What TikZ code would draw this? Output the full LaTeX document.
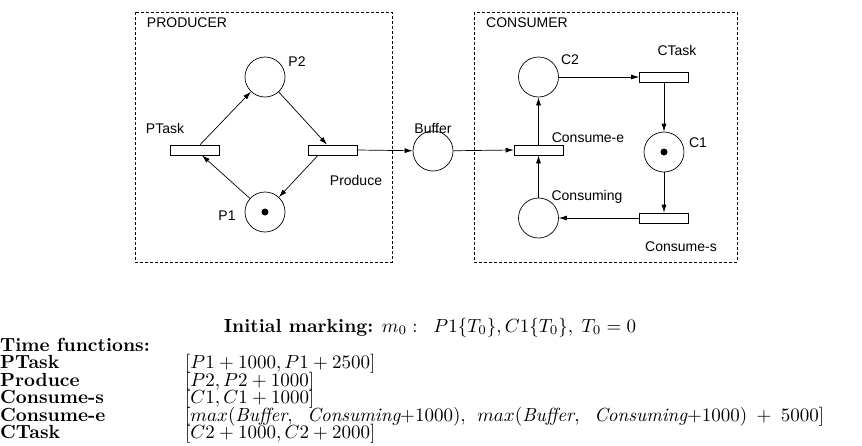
\documentclass[tikz,border=0pt]{standalone}
\usepackage{fontspec}
\newfontfamily\labelfont{Liberation Sans}
\usetikzlibrary{arrows.meta,calc}

% body text is set at 10pt and enlarged as a whole
\newcommand\enlargedtext[1]{\scalebox{1.9}{#1}}

\tikzset{
  place/.style={circle, draw, line width=0.7pt, minimum size=40pt, inner sep=0pt},
  trans/.style={rectangle, draw, line width=0.7pt, minimum width=49pt, minimum height=10pt, inner sep=0pt},
  arc/.style={line width=0.7pt, -{Latex[length=8pt,width=5pt]}},
  group/.style={draw, dash pattern=on 3pt off 2pt, line width=0.6pt},
  lbl/.style={font=\labelfont\fontsize{14}{16}\selectfont, inner sep=0pt},
  token/.style={circle, fill, minimum size=7pt, inner sep=0pt},
  txt/.style={font=\fontsize{10}{12}\selectfont, inner sep=0pt, anchor=base west},
}

\begin{document}
\begin{tikzpicture}[x=1pt,y=-1pt]
\useasboundingbox (0,0) rectangle (862,445);

% subnet frames
\draw[group] (135,12) rectangle (392,262);
\draw[group] (474,12) rectangle (737,262);
\node[lbl] (prodlbl) at (187,23) {PRODUCER};
\node[lbl] (conslbl) at (527,23) {CONSUMER};

% producer net
\node[place] (p2) at (265,77) {};
\node[place] (p1) at (265,212) {};
\node[token] (p1tok) at (p1) {};
\node[trans] (ptask) at (195,150) {};
\node[trans] (produce) at (333,150) {};

% buffer place
\node[place] (buffer) at (433,151) {};

% consumer net
\node[place] (c2) at (538.5,77) {};
\node[place] (consuming) at (538.5,218) {};
\node[place] (c1) at (664,152) {};
\node[token] (c1tok) at (c1) {};
\node[trans] (conse) at (538.5,150) {};
\node[trans] (ctask) at (664,77) {};
\node[trans] (conss) at (664,218) {};

% labels
\node[lbl] (p2lbl) at (297,62) {P2};
\node[lbl] (p1lbl) at (227,216) {P1};
\node[lbl] (ptasklbl) at (165,128) {PTask};
\node[lbl] (producelbl) at (356,180) {Produce};
\node[lbl] (bufferlbl) at (433,128) {Buffer};
\node[lbl] (c2lbl) at (570,60) {C2};
\node[lbl] (ctasklbl) at (677,50) {CTask};
\node[lbl] (conselbl) at (588,138) {Consume-e};
\node[lbl] (c1lbl) at (698,143) {C1};
\node[lbl] (consuminglbl) at (587,197) {Consuming};
\node[lbl] (consslbl) at (681,247) {Consume-s};

% arcs
\draw[arc] (ptask) -- (p2);
\draw[arc] (p2) -- ($(produce.north)+(-6,0)$);
\draw[arc] ($(produce.south)+(-15,0)$) -- (p1);
\draw[arc] (p1) -- ($(ptask.south)+(7,0)$);
\draw[arc] (produce.east) -- (buffer);
\draw[arc] (buffer) -- (conse.west);
\draw[arc] (conse.north) -- (c2);
\draw[arc] (c2) -- (ctask.west);
\draw[arc] (ctask.south) -- (c1);
\draw[arc] (c1) -- (conss.north);
\draw[arc] (conss.west) -- (consuming);
\draw[arc] (consuming) -- (conse.south);

% marking and time functions
\node[txt, anchor=base] (marking) at (430,332)
  {\enlargedtext{\textbf{Initial marking:} $m_0:\;\; P1\{T_0\},C1\{T_0\},\;T_0=0$}};
\node[txt] (tfhead) at (0,351) {\enlargedtext{\textbf{Time functions:}}};
\node[txt] (r1a) at (0,368.5) {\enlargedtext{\textbf{PTask}}};
\node[txt] (r1b) at (185,368.5) {\enlargedtext{$[P1+1000, P1+2500]$}};
\node[txt] (r2a) at (0,386) {\enlargedtext{\textbf{Produce}}};
\node[txt] (r2b) at (185,386) {\enlargedtext{$[P2, P2+1000]$}};
\node[txt] (r3a) at (0,403.5) {\enlargedtext{\textbf{Consume-s}}};
\node[txt] (r3b) at (185,403.5) {\enlargedtext{$[C1, C1+1000]$}};
\node[txt] (r4a) at (0,421) {\enlargedtext{\textbf{Consume-e}}};
\node[txt] (r4b) at (185,421)
  {\enlargedtext{$[max(\textit{Buffer},\ \;\textit{Consuming}{+}1000),\;\,max(\textit{Buffer},\ \;\textit{Consuming}{+}1000)\;+\;5000]$}};
\node[txt] (r5a) at (0,438.5) {\enlargedtext{\textbf{CTask}}};
\node[txt] (r5b) at (185,438.5) {\enlargedtext{$[C2+1000, C2+2000]$}};
\end{tikzpicture}
\end{document}
